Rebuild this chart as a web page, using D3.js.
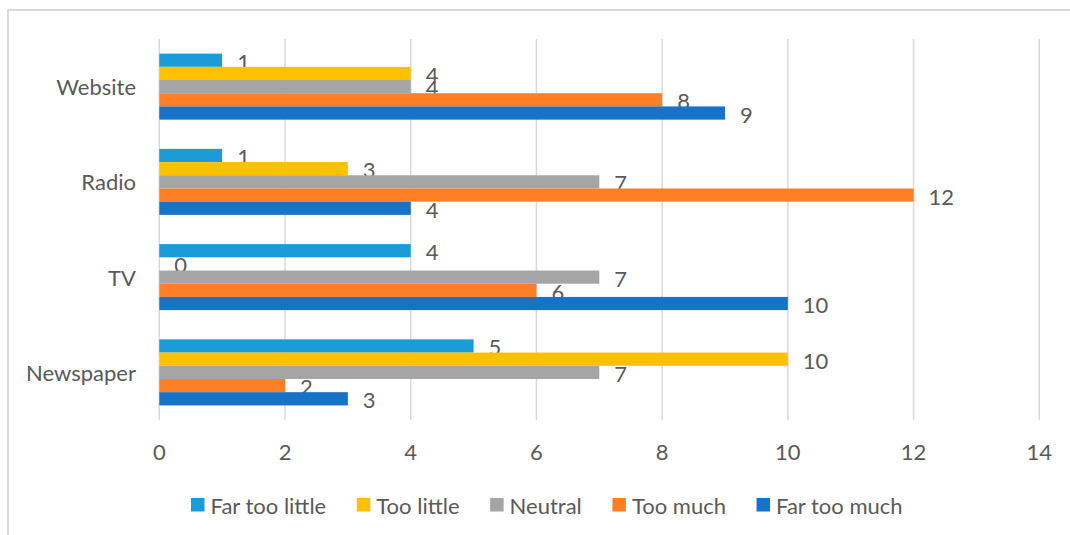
<!DOCTYPE html>
<html>
<head>
<meta charset="utf-8">
<script src="https://cdn.jsdelivr.net/npm/d3@7"></script>
<style>
	html, body { margin: 0; padding: 0; background: #fff; }
	svg text { font-family: Lato, "Open Sans", sans-serif; fill: #595959; }
</style>
</head>
<body>
<svg id="chart" width="1070" height="535"></svg>
<script>

// Categories, top to bottom as drawn.
var categories = [ 'Website', 'Radio', 'TV', 'Newspaper' ];

// Series names, in the order the bars stack inside a group (top first).
var seriesNames = [ 'Far too little', 'Too little', 'Neutral', 'Too much', 'Far too much' ];
var seriesColors = [ '#1B9BD8', '#FFC000', '#A5A5A5', '#FF7F27', '#1872C8' ];

// One array per series, following the category order above.
var farTooLittle = [ 1, 1, 4, 5 ];
var tooLittle = [ 4, 3, 0, 10 ];
var neutral = [ 4, 7, 7, 7 ];
var tooMuch = [ 8, 12, 6, 2 ];
var farTooMuch = [ 9, 4, 10, 3 ];

var xTicks = [ 0, 2, 4, 6, 8, 10, 12, 14 ];

var seriesValues = [ farTooLittle, tooLittle, neutral, tooMuch, farTooMuch ];

var fontSize = '22px';

var svg = d3.select( '#chart' );

// Chart area border, as Excel draws it.
svg.append( 'rect' )
	.attr( 'x', 8 )
	.attr( 'y', 10 )
	.attr( 'width', 1100 )
	.attr( 'height', 600 )
	.attr( 'fill', 'none' )
	.attr( 'stroke', '#D9D9D9' )
	.attr( 'stroke-width', 2 );

var plot = { left: 159.3, right: 1039.3, top: 39, bottom: 420 };

var x = d3.scaleLinear()
	.domain( [ 0, 14 ] )
	.range( [ plot.left, plot.right ] );

var y = d3.scaleBand()
	.domain( categories )
	.range( [ plot.top, plot.bottom ] )
	.paddingInner( 0.307 )
	.paddingOuter( 0.1535 );

var ySub = d3.scaleBand()
	.domain( seriesNames )
	.range( [ 0, y.bandwidth() ] );

// Gridlines.
svg.append( 'g' )
	.selectAll( 'line' )
	.data( xTicks )
	.enter()
	.append( 'line' )
	.attr( 'x1', function ( d ) { return x( d ); } )
	.attr( 'x2', function ( d ) { return x( d ); } )
	.attr( 'y1', plot.top )
	.attr( 'y2', plot.bottom )
	.attr( 'stroke', '#D9D9D9' )
	.attr( 'stroke-width', 1.5 );

// Tick labels under the plot.
svg.append( 'g' )
	.selectAll( 'text' )
	.data( xTicks )
	.enter()
	.append( 'text' )
	.attr( 'x', function ( d ) { return x( d ); } )
	.attr( 'y', 451 )
	.attr( 'text-anchor', 'middle' )
	.attr( 'dominant-baseline', 'central' )
	.style( 'font-size', fontSize )
	.text( function ( d ) { return d; } );

// Category labels.
svg.append( 'g' )
	.selectAll( 'text' )
	.data( categories )
	.enter()
	.append( 'text' )
	.attr( 'x', 136 )
	.attr( 'y', function ( d ) { return y( d ) + y.bandwidth() / 2; } )
	.attr( 'text-anchor', 'end' )
	.attr( 'dominant-baseline', 'central' )
	.style( 'font-size', fontSize )
	.text( function ( d ) { return d; } );

// Flatten into one record per bar.
var bars = [];
categories.forEach( function ( c, ci ) {
	seriesNames.forEach( function ( s, si ) {
		bars.push( { category: c, series: s, color: seriesColors[si], value: seriesValues[si][ci] } );
	} );
} );

var groups = svg.append( 'g' )
	.selectAll( 'g.bar' )
	.data( bars )
	.enter()
	.append( 'g' )
	.classed( 'bar', true )
	.attr( 'transform', function ( d ) {
		return 'translate(0,' + ( y( d.category ) + ySub( d.series ) ) + ')';
	} );

groups.append( 'rect' )
	.attr( 'x', x( 0 ) )
	.attr( 'y', 0 )
	.attr( 'width', function ( d ) { return x( d.value ) - x( 0 ); } )
	.attr( 'height', ySub.bandwidth() )
	.attr( 'fill', function ( d ) { return d.color; } );

groups.append( 'text' )
	.attr( 'x', function ( d ) { return x( d.value ) + 15; } )
	.attr( 'y', ySub.bandwidth() / 2 + 1 )
	.attr( 'dominant-baseline', 'central' )
	.style( 'font-size', fontSize )
	.text( function ( d ) { return d.value; } );

// Legend, laid out left to right from measured text widths.
var legend = svg.append( 'g' ).attr( 'transform', 'translate(191,505)' );
var cursor = 0;
seriesNames.forEach( function ( s, i ) {
	legend.append( 'rect' )
		.attr( 'x', cursor )
		.attr( 'y', -7 )
		.attr( 'width', 13.5 )
		.attr( 'height', 13.5 )
		.attr( 'fill', seriesColors[i] );
	var t = legend.append( 'text' )
		.attr( 'x', cursor + 19.5 )
		.attr( 'y', 0 )
		.attr( 'dominant-baseline', 'central' )
		.style( 'font-size', fontSize )
		.text( s );
	cursor += 19.5 + t.node().getComputedTextLength() + 30.6;
} );

</script>
</body>
</html>
